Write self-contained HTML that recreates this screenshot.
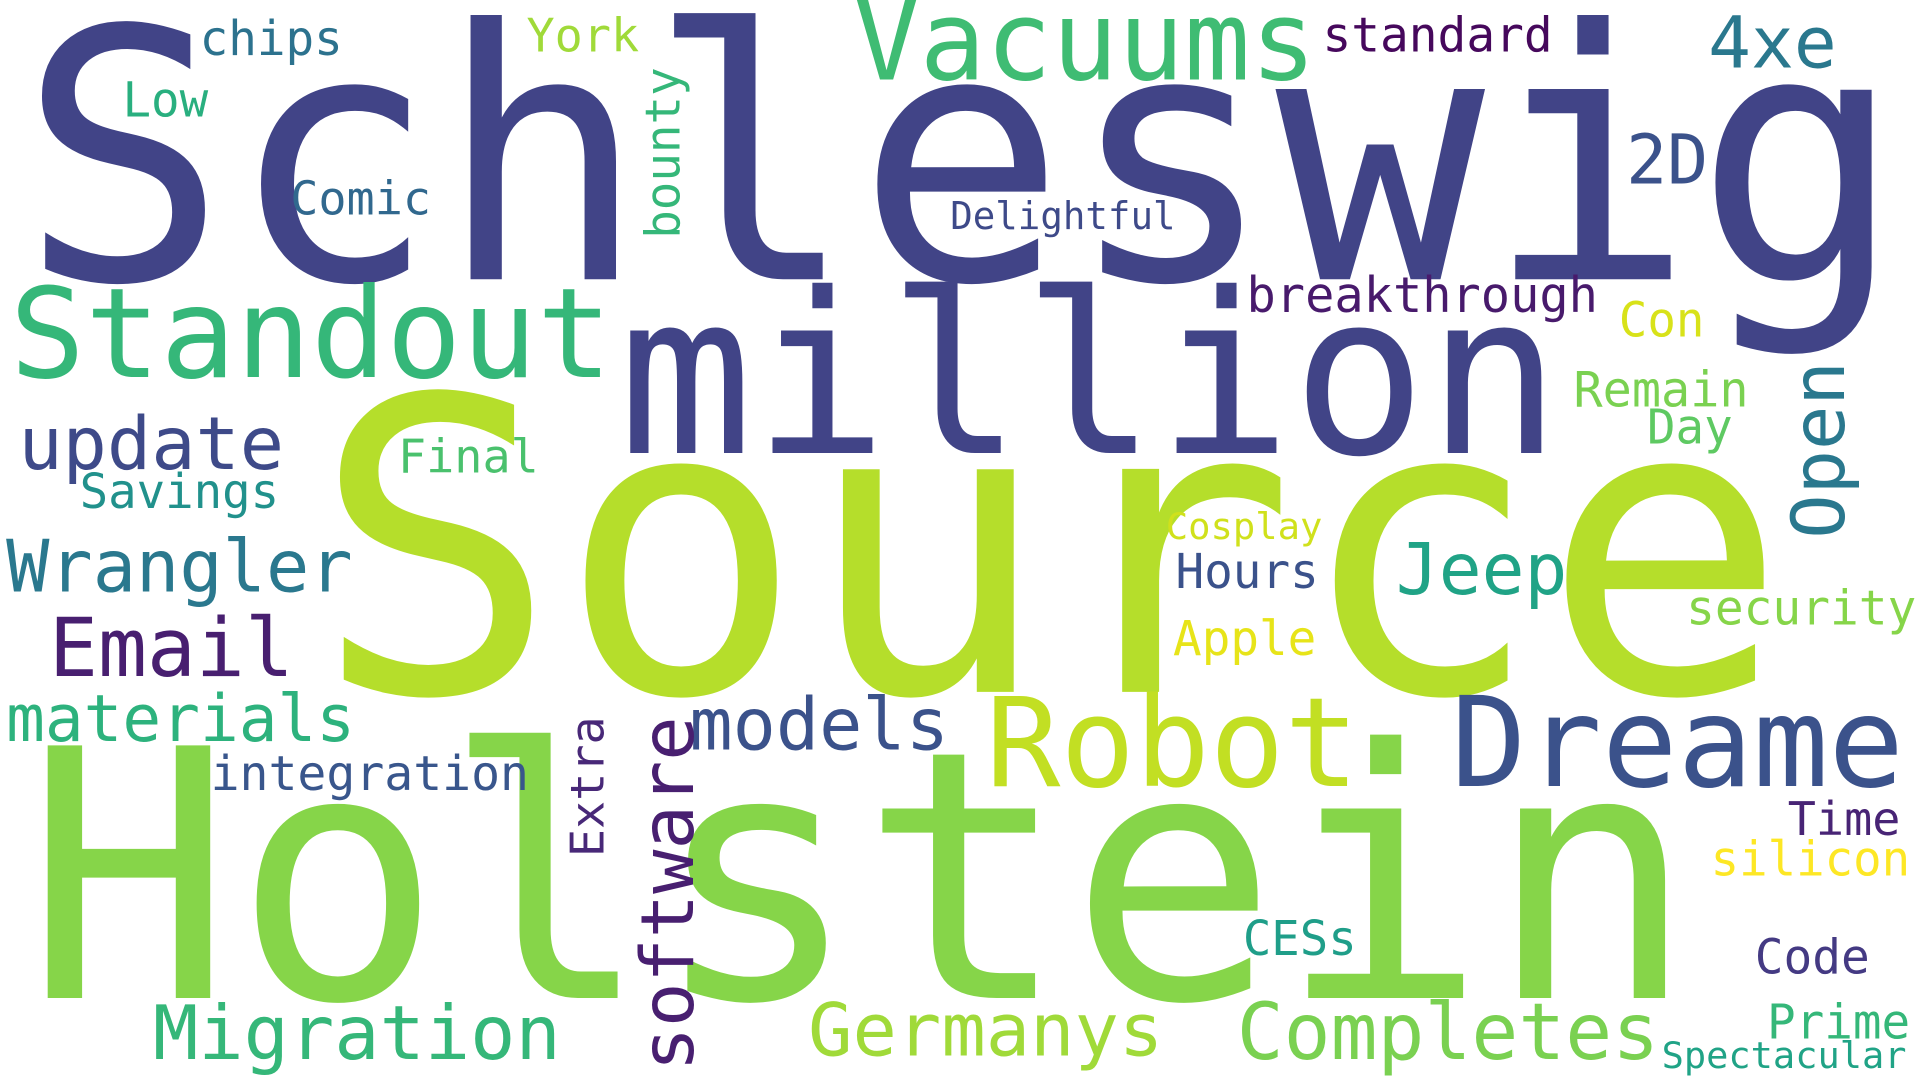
<!DOCTYPE html>
<html><head><meta charset="utf-8"><title>Word cloud</title>
<style>
html,body{margin:0;padding:0;background:#fff;width:1920px;height:1080px;overflow:hidden}
svg{display:block}
text{font-family:"DejaVu Sans Mono","Liberation Mono",monospace}
</style></head>
<body>
<svg id="cloud" width="1920" height="1080" viewBox="0 0 1568 882" preserveAspectRatio="none" xmlns="http://www.w3.org/2000/svg">
<rect width="1568" height="882" fill="#fff"/>
</svg>
<script>
const words  = ["Schleswig","Source","Holstein","million","Standout","Vacuums","Robot","Dreame","Migration","Germanys","Completes","update","Wrangler","Email","materials","models","integration","Jeep","Open","software","Extra","bounty","2D","4xe","chips","York","standard","Low","Comic","Delightful","breakthrough","Con","Remain","Day","Final","Savings","Cosplay","Hours","security","Apple","Time","silicon","CESs","Code","Prime","Spectacular"];
const sizes  = [284,333,283,183,102,90,101,102,61,60,64,60,59,66,53,59,39,58,60,60,38,39,56,58,39,38,39,39,38,31,40,39,40,39,38,39,30,39,39,39,38,39,39,39,39,30];
const colors = ["#414487","#b5de2b","#86d549","#414487","#35b779","#3fbc73","#c2df23","#3b528b","#35b779","#a0da39","#7ad151","#3e4a89","#2a788e","#481f70","#2db27d","#3b528b","#39568c","#20a386","#2a788e","#481f70","#482878","#35b779","#3b528b","#2a788e","#2c728e","#a0da39","#46085c","#29af7f","#31688e","#3e4a89","#481a6c","#d8e219","#7ad151","#5ec962","#4ac16d","#21918c","#d0e11c","#3b528b","#86d549","#e7e419","#482475","#fde725","#1f9e89","#443a83","#35b779","#20a386"];
const xs     = [15,255,20,505,8,697,805,1185,125,660,1010,15,5,40,5,563,172,1140,1506,566,493,555,1328,1395,163,430,1080,100,237,776,1018,1322,1285,1345,325,65,952,960,1377,958,1460,1397,1015,1433,1443,1357];
const ys     = [228,565,815,370,308,65,642,642,865,862,865,383,483,552,605,612,645,485,440,875,700,195,150,55,45,42,42,95,175,187,255,275,332,362,386,415,440,480,510,535,682,715,780,795,848,872];
const lens   = [1540,1205,1365,770,492,378,305,370,333,290,345,217,283,200,285,212,260,140,145,290,115,140,67,105,117,92,188,70,115,184,287,70,143,70,115,163,128,117,188,117,92,163,93,94,117,200];
const vert   = [0,0,0,0,0,0,0,0,0,0,0,0,0,0,0,0,0,0,1,1,1,1,0,0,0,0,0,0,0,0,0,0,0,0,0,0,0,0,0,0,0,0,0,0,0,0];
const svg = document.getElementById('cloud');
const NS = 'http://www.w3.org/2000/svg';
for (let i = 0; i < words.length; i++) {
  const t = document.createElementNS(NS, 'text');
  t.textContent = words[i];
  t.setAttribute('font-size', sizes[i]);
  t.setAttribute('fill', colors[i]);
  t.setAttribute('textLength', lens[i]);
  t.setAttribute('lengthAdjust', 'spacingAndGlyphs');
  if (vert[i]) {
    t.setAttribute('transform', 'translate(' + xs[i] + ',' + ys[i] + ') rotate(-90)');
  } else {
    t.setAttribute('x', xs[i]);
    t.setAttribute('y', ys[i]);
  }
  
  
  svg.appendChild(t);
}
</script>
</body></html>
